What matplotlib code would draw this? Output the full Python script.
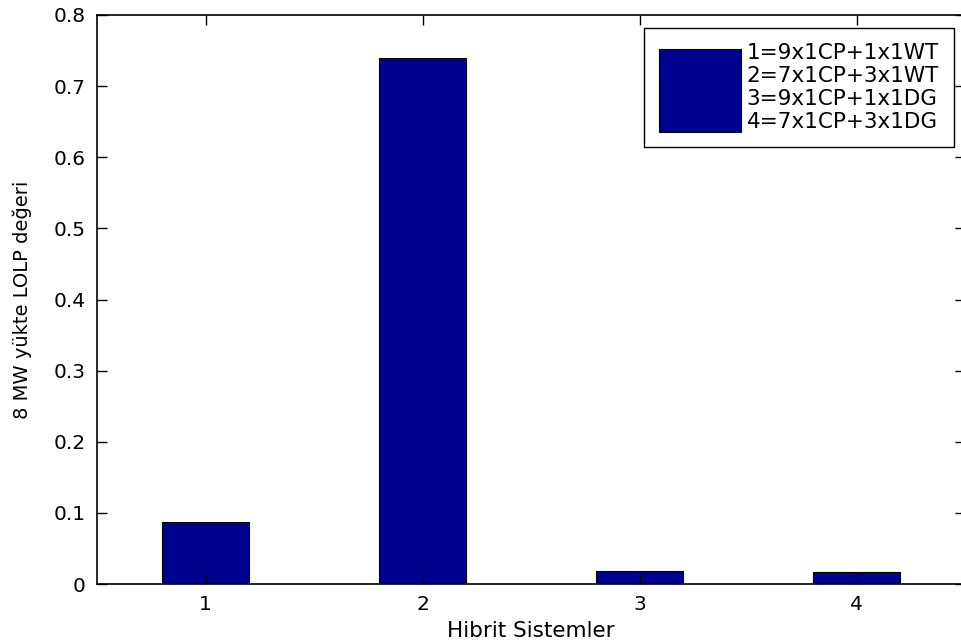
import matplotlib
matplotlib.use("Agg")
import matplotlib.pyplot as plt

# LOLP at 8 MW load for each hybrid system configuration
systems = [1, 2, 3, 4]
lolp = [0.0865, 0.740, 0.0187, 0.0164]
legend_text = "1=9x1CP+1x1WT\n2=7x1CP+3x1WT\n3=9x1CP+1x1DG\n4=7x1CP+3x1DG"
y_ticks = [0, 0.1, 0.2, 0.3, 0.4, 0.5, 0.6, 0.7, 0.8]
y_tick_labels = ["0", "0.1", "0.2", "0.3", "0.4", "0.5", "0.6", "0.7", "0.8"]

plt.rcParams["font.family"] = ["DejaVu Sans"]

fig = plt.figure(figsize=(9.62, 6.43), dpi=100)
ax = fig.add_axes([97 / 962, 1 - 584 / 643, 868 / 962, 569 / 643])

ax.bar(systems, lolp, width=0.4, color=(0, 0, 0.5625), edgecolor="black",
       linewidth=0.8, label=legend_text)

ax.set_xlim(0.5, 4.5)
ax.set_ylim(0, 0.8)
ax.set_xticks(systems)
ax.set_xticklabels([str(s) for s in systems])
ax.set_yticks(y_ticks)
ax.set_yticklabels(y_tick_labels)

ax.tick_params(direction="in", length=7, width=1, top=True, right=True,
               labelsize=14.5, colors="black", pad=8)
for s in ax.spines.values():
    s.set_linewidth(1.2)

ax.set_xlabel("Hibrit Sistemler", fontsize=15.5, labelpad=5)
ax.set_ylabel("8 MW yükte LOLP değeri", fontsize=14, labelpad=16)

leg = ax.legend(loc="upper right", bbox_to_anchor=(954 / 962, 1 - 28 / 643),
                bbox_transform=fig.transFigure, fontsize=15.5,
                handlelength=3.8, handleheight=5.6, handletextpad=0.25,
                borderpad=0.7, borderaxespad=0, fancybox=False,
                framealpha=1, edgecolor="black")
leg.get_frame().set_linewidth(1.0)
for t in leg.get_texts():
    t.set_linespacing(1.18)

fig.savefig("out.png", dpi=100)
